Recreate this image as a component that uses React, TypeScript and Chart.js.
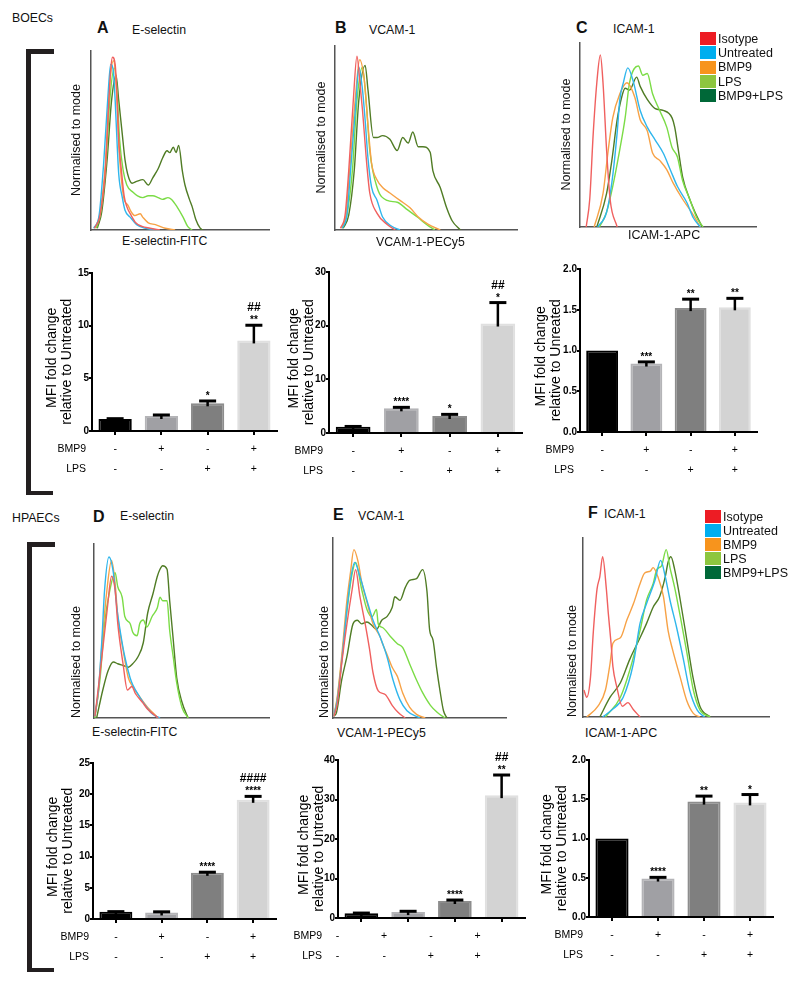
import React, { useEffect, useRef } from 'react';
import { Chart, registerables } from 'chart.js';

Chart.register(...registerables);

const FONT = "'Liberation Sans', Arial, Helvetica, sans-serif";
const NARROW = "'Liberation Sans Narrow', 'Arial Narrow', 'Liberation Sans', Arial, sans-serif";

// ---------------- series ----------------
const SERIES = ['Isotype', 'Untreated', 'BMP9', 'LPS', 'BMP9+LPS'];
const LEGEND_COLORS = ['#ed1c24', '#00aeef', '#f7941d', '#8dc63f', '#006838'];
const LINE_COLORS = ['#f0605f', '#2fb6ec', '#f7a246', '#7bdc46', '#507c25'];

// ---------------- histogram data: [channel (0-100), % of mode] ----------------
// A  BOECs E-selectin-FITC
const A_iso = [[2,1],[5,8],[8,33],[10,72],[11,89],[12,96],[13.5,92],[14.5,75],[15.5,50],[17,33],[18.5,19],[20,13],[22.5,8],[25,4],[28.5,2],[33,1],[38.5,0]];
const A_unt = [[1.5,1],[4.5,8],[7,36],[9.5,75],[11,92],[12.5,88],[13.5,72],[14.5,50],[15.5,31],[17.5,18],[19,11],[22,7],[25.5,3],[30,1],[36,0]];
const A_bmp = [[2,1],[5,9],[8,36],[10,75],[12.5,94],[13.5,89],[14.5,72],[15.5,47],[17,28],[18.5,17],[20.5,14],[22.5,10],[24.5,8],[27.5,9],[29,7],[32,4],[36,3],[41.5,1],[47,0]];
const A_lps = [[3,1],[5.5,10],[8.5,39],[10.5,72],[13,90],[14.5,78],[16,50],[18,33],[20,25],[23.5,21],[26,19],[29,18],[32,19],[34.5,19],[37.5,18],[40,17],[43,18],[45,17],[48,13],[51.5,7],[54,2],[56.5,0]];
const A_both = [[3.5,1],[6,10],[9,39],[11.5,72],[14,86],[15.5,72],[17.5,53],[19,39],[20.5,31],[23,26],[25.5,27],[29,28],[32,25],[34.5,29],[37.5,34],[40,40],[42.5,44],[44,43],[46,46],[47.5,43],[49,47],[51,33],[52.5,25],[55,17],[56.5,13],[58.5,6],[61,1],[62.5,0]];

// B  BOECs VCAM-1-PECy5
const B_iso = [[3,1],[5.5,8],[7.5,32],[10,70],[12,94],[13.5,81],[15,65],[17.5,34],[19,20],[23,9],[28.5,3],[33,0]];
const B_unt = [[4,1],[6.5,8],[8.5,32],[11.5,70],[13,88],[15,76],[16.5,59],[18,39],[20,23],[23,16],[26,7],[31,2],[35.5,0]];
const B_bmp = [[3.5,1],[6,8],[8,32],[11,70],[13.5,92],[16,81],[18,57],[20,36],[23,27],[26,23],[30,20],[35.5,16],[41,12],[45.5,7],[51,3],[57.5,0]];
const B_lps = [[4,1],[6.5,8],[9.5,32],[12,70],[15,88],[17,70],[19,43],[23,23],[28.5,16],[34,15],[39.5,11],[45,7],[50,3],[54.5,0]];
const B_both = [[4.5,1],[7.5,8],[10.5,32],[13,70],[16.5,89],[18,76],[21,50],[23,50],[26,51],[30,49],[34,43],[37,50],[40,47],[42.5,53],[45.5,45],[48,45],[52,42],[53.5,32],[57.5,23],[61,12],[64,5],[68.5,0]];

// C  BOECs ICAM-1-APC
const C_iso = [[3.5,0],[5.5,15],[7.5,51],[9.5,78],[11.5,93],[13,78],[15,42],[17,15],[21,0]];
const C_unt = [[10,0],[15,8],[18,24],[21,51],[22.5,69],[24.5,78],[27,86],[30,79],[34,63],[38,54],[42.5,47],[47,40],[51,31],[55,22],[60.5,13],[64,5],[68,0]];
const C_bmp = [[8,0],[13,18],[16,42],[18.5,59],[22.5,72],[26.5,78],[31,70],[34,58],[38,52],[41,40],[45,36],[49,31],[52.5,24],[58,15],[63,8],[68,0]];
const C_lps = [[11,0],[15,8],[18.5,22],[22.5,42],[25.5,59],[28,78],[33,87],[35.5,82],[38,83],[41,72],[45,63],[49,54],[52,43],[55,38],[58,25],[62,15],[66,5],[69.5,0]];
const C_both = [[9.5,0],[15,18],[18,36],[21,58],[23.5,70],[25.5,75],[28,74],[32,81],[34,76],[38,69],[42.5,64],[47,63],[52,59],[53.5,54],[55.5,42],[58,27],[62,15],[65,8],[69,0]];

// D  HPAECs E-selectin-FITC
const D_iso = [[0.5,1],[1.5,9],[4.5,35],[7.5,62],[10,81],[12,73],[13.5,54],[16.5,31],[19,16],[21.5,18],[23.5,14],[27.5,9],[30.5,5],[36.5,0]];
const D_unt = [[0.5,1],[2.5,16],[4.5,45],[6,73],[8.5,92],[11,83],[13,63],[15,49],[17.5,35],[20.5,23],[22,19],[26,12],[30,6],[33.5,2],[37.5,0]];
const D_bmp = [[0.5,1],[2.5,15],[4.5,42],[7,70],[10,90],[12,77],[13.5,58],[16.5,39],[19.5,23],[22,18],[26,12],[30.5,6],[36.5,0]];
const D_lps = [[0.5,0],[3.5,23],[6,54],[9,73],[12,83],[13.5,75],[16,69],[17.5,58],[20.5,54],[22,49],[24.5,47],[26,54],[28,56],[30,52],[33,58],[36,63],[37.5,69],[39,67],[41.5,67],[43,50],[45,35],[47,20],[50,6],[53.5,0]];
const D_both = [[1.5,0],[5,16],[8,27],[11,32],[13.5,31],[16.5,30],[19.5,29],[22,31],[25,35],[28,43],[30.5,60],[33.5,71],[36,81],[37.5,85],[39,87],[41.5,85],[43,67],[45,45],[47,23],[50,9],[53.5,0]];

// E  HPAECs VCAM-1-PECy5
const E_iso = [[0.5,1],[2.5,8],[5,30],[8,52],[11,71],[13,82],[15.5,67],[18.5,52],[21,38],[23,25],[26,15],[30,13],[34,7],[37.5,3],[41.5,0]];
const E_unt = [[0.5,1],[2.5,10],[5,31],[8,60],[10.5,79],[12.5,86],[15.5,78],[19.5,65],[23,54],[27,45],[31,34],[34.5,21],[38.5,10],[42.5,4],[50,0]];
const E_bmp = [[0.5,1],[2.5,12],[5,34],[8,65],[10,80],[12,93],[14.5,86],[16.5,75],[19.5,64],[23,52],[27,45],[28.5,41],[31.5,34],[34,28],[37,23],[40,14],[44,6],[48,2],[53,0]];
const E_lps = [[0.5,1],[2.5,11],[5,32],[8,59],[10.5,77],[13,86],[16.5,71],[19.5,60],[22.5,56],[25,60],[26,52],[28.5,50],[33,45],[37,41],[40,39],[44,30],[48,21],[51.5,14],[56,7],[60,3],[64.5,0]];
const E_both = [[0.5,1],[2,3],[5,21],[8,34],[11.5,52],[14,54],[16.5,52],[19.5,53],[22.5,51],[25,49],[28,54],[31,56],[34,61],[35.5,67],[38.5,65],[41.5,72],[44,76],[48,77],[51.5,82],[54,70],[55.5,49],[57.5,43],[59.5,28],[61.5,15],[63.5,4],[65.5,0]];

// F  HPAECs ICAM-1-APC
const F_iso = [[0.5,15],[2,11],[4,22],[5.5,47],[7.5,71],[9,78],[10.5,89],[12.5,71],[13.5,58],[15,41],[16,28],[18,17],[21,6],[24,8],[27,4],[30.5,0]];
const F_unt = [[10.5,0],[15.5,4],[21.5,11],[27,30],[30.5,52],[34,63],[38.5,76],[41.5,87],[44,78],[46.5,65],[50,50],[53.5,33],[57,15],[61,4],[65,0]];
const F_bmp = [[2,0],[8,6],[12,15],[14.5,30],[16,41],[20,44],[23.5,54],[27,63],[30.5,74],[33,80],[36,81],[37.5,83],[40,78],[43,67],[45.5,48],[48,37],[52,22],[55.5,9],[59,2],[62.5,0]];
const F_lps = [[12,0],[20,11],[25,26],[30.5,48],[34,65],[37.5,74],[39.5,82],[42,84],[44.5,93],[46.5,83],[49,72],[52,56],[55.5,36],[59,15],[62.5,4],[68,0]];
const F_both = [[9,0],[14.5,11],[20,19],[25,32],[30.5,44],[34,52],[37.5,61],[41,67],[44,78],[45.5,86],[47,89],[49,82],[52,65],[55.5,43],[59,21],[62.5,6],[68,0]];

// ---------------- bar data ----------------
const CONDITIONS = ['Untreated', 'BMP9', 'LPS', 'BMP9+LPS'];
const BMP9_ROW = ['-', '+', '-', '+'];
const LPS_ROW = ['-', '-', '+', '+'];

const A_MFI = [1.13, 1.42, 2.63, 8.6];
const A_SEM = [0.04, 0.1, 0.22, 1.44];
const A_STARS = ['', '', '*', '**'];
const A_HASH = ['', '', '', '##'];

const B_MFI = [1.17, 4.6, 3.17, 20.4];
const B_SEM = [0.05, 0.18, 0.3, 3.9];
const B_STARS = ['', '****', '*', '*'];
const B_HASH = ['', '', '', '##'];

const C_MFI = [1.0, 0.84, 1.52, 1.53];
const C_SEM = [0, 0.02, 0.11, 0.11];
const C_STARS = ['', '***', '**', '**'];
const C_HASH = ['', '', '', ''];

const D_MFI = [1.15, 1.05, 7.4, 19.1];
const D_SEM = [0.03, 0.1, 0.1, 0.55];
const D_STARS = ['', '', '****', '****'];
const D_HASH = ['', '', '', '####'];

const E_MFI = [1.2, 1.5, 4.3, 31.1];
const E_SEM = [0.05, 0.2, 0.25, 5.1];
const E_STARS = ['', '', '****', '**'];
const E_HASH = ['', '', '', '##'];

const F_MFI = [1.0, 0.49, 1.47, 1.46];
const F_SEM = [0, 0.015, 0.07, 0.1];
const F_STARS = ['', '****', '**', '*'];
const F_HASH = ['', '', '', ''];

// ---------------- styles ----------------
const BAR_FILL = ['#000000', '#a0a0a4', '#7f7f7f', '#d3d3d3'];
const BAR_EDGE = ['#000000', '#b4b4b7', '#8d8d8d', '#e0e0e0'];

// ---------------- layout (page pixels) ----------------
const HIST_LAYOUT = {
  A: { x0: 91, x1: 270, top: 50, base: 230, titleGap: 14, titleAlign: 'center' },
  B: { x0: 335, x1: 518, top: 45, base: 230, titleGap: 13, titleAlign: 'center' },
  C: { x0: 580, x1: 757, top: 42, base: 227, titleGap: 13, titleAlign: 'center' },
  D: { x0: 94, x1: 270, top: 543, base: 718, titleGap: 17, titleAlign: 'start' },
  E: { x0: 333, x1: 507, top: 537, base: 718, titleGap: 8, titleAlign: 'start' },
  F: { x0: 583, x1: 770, top: 537, base: 717, titleGap: 10, titleAlign: 'start' },
};

const BAR_LAYOUT = {
  A: { axisX: 92, right: 277, top: 273, bottom: 431, title1X: 52, signShift: 0, headShift: 0 },
  B: { axisX: 329, right: 522, top: 272, bottom: 433, title1X: 294, signShift: 0, headShift: 0 },
  C: { axisX: 580, right: 757, top: 269, bottom: 432, title1X: 541, signShift: 0, headShift: 0 },
  D: { axisX: 93, right: 276, top: 763, bottom: 919, title1X: 53, signShift: 0, headShift: 2 },
  E: { axisX: 338, right: 525, top: 760, bottom: 918, title1X: 304, signShift: -24, headShift: -10 },
  F: { axisX: 589, right: 773, top: 760, bottom: 917, title1X: 547, signShift: 0, headShift: 0 },
};

function Histogram({ lay, curves }: any) {
  const ref = useRef<HTMLCanvasElement>(null);
  const W = Math.round(lay.titleGap + 7.5);
  const left = lay.x0 - W;
  const width = lay.x1 - left;
  const XH = 3;
  const height = lay.base - lay.top + XH;
  useEffect(() => {
    const chart = new Chart(ref.current as HTMLCanvasElement, {
      type: 'line',
      data: {
        datasets: curves.map((pts: number[][], i: number) => ({
          label: SERIES[i],
          data: pts.map(([x, y]) => ({ x, y })),
          borderColor: LINE_COLORS[i],
          backgroundColor: LEGEND_COLORS[i],
          borderWidth: 1.4,
          pointRadius: 0,
          fill: false,
          cubicInterpolationMode: 'monotone',
        })),
      },
      options: {
        animation: false,
        responsive: false,
        events: [],
        layout: { padding: 0 },
        plugins: { legend: { display: false }, tooltip: { enabled: false } },
        scales: {
          x: {
            type: 'linear', min: 0, max: 100,
            ticks: { display: false },
            grid: { display: false },
            border: { color: '#555', width: 1.5 },
            afterFit: (s: any) => { s.height = XH; },
          },
          y: {
            min: 0, max: 100,
            ticks: { display: false },
            grid: { display: false },
            border: { color: '#555', width: 1.5 },
            title: {
              display: true, text: 'Normalised to mode', align: lay.titleAlign, padding: 0,
              color: '#111', font: { family: FONT, size: 12.5, lineHeight: 1.2 },
            },
            afterFit: (s: any) => { s.width = W; },
          },
        },
      } as any,
    });
    return () => chart.destroy();
  }, []);
  return (
    <canvas ref={ref} width={width} height={height}
      style={{ position: 'absolute', left, top: lay.top, width, height }} />
  );
}

function BarPanel({ lay, values, errs, stars, hashes, yMax, yStep, decimals, yTitle }: any) {
  const ref = useRef<HTMLCanvasElement>(null);
  const PL = 24;
  const L = Math.round(lay.title1X - 7.7);
  const W = lay.axisX - L;
  const PT = 12, XH = 50, PR = 4;
  const width = lay.right - L + PR + PL;
  const height = PT + (lay.bottom - lay.top) + XH;
  useEffect(() => {
    const extras = {
      id: 'barExtras',
      afterDraw(chart: any) {
        const { ctx, chartArea } = chart;
        const ys = chart.scales.y;
        const meta = chart.getDatasetMeta(0);
        ctx.save();
        ctx.strokeStyle = '#000';
        ctx.fillStyle = '#000';
        values.forEach((v: number, i: number) => {
          const bx = meta.data[i].x;
          const e = errs[i];
          const yv = ys.getPixelForValue(v);
          const yt = ys.getPixelForValue(v + e);
          if (e > 0) {
            ctx.lineWidth = 2.5;
            ctx.beginPath(); ctx.moveTo(bx, yv + 3); ctx.lineTo(bx, yt); ctx.stroke();
            ctx.lineWidth = 3;
            ctx.beginPath(); ctx.moveTo(bx - 8.5, yt); ctx.lineTo(bx + 8.5, yt); ctx.stroke();
          }
          ctx.textAlign = 'center';
          ctx.textBaseline = 'alphabetic';
          if (stars[i]) { ctx.font = `bold 10px ${FONT}`; ctx.fillText(stars[i], bx, yt - 2); }
          if (hashes[i]) { ctx.font = `bold 12px ${NARROW}`; ctx.fillText(hashes[i], bx, yt - 14); }
        });
        ctx.font = `10.5px ${NARROW}`;
        ctx.textAlign = 'right';
        ctx.textBaseline = 'middle';
        const hx = chartArea.left - 6 + lay.headShift;
        ctx.fillText('BMP9', hx, chartArea.bottom + 18);
        ctx.fillText('LPS', hx, chartArea.bottom + 38);
        ctx.restore();
      },
    };
    const chart = new Chart(ref.current as HTMLCanvasElement, {
      type: 'bar',
      data: {
        labels: CONDITIONS.map((c, i) => [BMP9_ROW[i], LPS_ROW[i]]),
        datasets: [{
          label: 'MFI fold change',
          data: values,
          backgroundColor: BAR_FILL,
          borderColor: BAR_EDGE,
          borderWidth: 2,
          barPercentage: 0.72,
          categoryPercentage: 1,
        }],
      },
      options: {
        animation: false,
        responsive: false,
        events: [],
        layout: { padding: { top: PT, right: PR, left: PL, bottom: 0 } },
        plugins: { legend: { display: false }, tooltip: { enabled: false } },
        scales: {
          x: {
            grid: { display: true, drawOnChartArea: false, drawTicks: true, tickLength: 4, offset: false, color: '#000', lineWidth: 2 },
            border: { color: '#000', width: 2 },
            ticks: {
              color: '#000', padding: 4, maxRotation: 0, autoSkip: false, labelOffset: lay.signShift,
              font: { family: NARROW, size: 10.5, lineHeight: 20 / 10.5 },
            },
            afterFit: (s: any) => { s.height = XH; },
          },
          y: {
            min: 0, max: yMax,
            ticks: {
              stepSize: yStep, color: '#000', padding: 0,
              font: { family: NARROW, size: 10, weight: 'bold' },
              callback: (v: number) => (decimals ? Number(v).toFixed(decimals) : String(v)),
            },
            grid: { drawOnChartArea: false, drawTicks: true, tickLength: 3, color: '#000', lineWidth: 2 },
            border: { color: '#000', width: 2 },
            title: {
              // trailing spaces nudge the centred, rotated lines slightly lower, as in the figure
              display: true, text: [yTitle[0] + '   ', yTitle[1] + '     '], padding: 0, color: '#000',
              font: { family: FONT, size: 14, lineHeight: 1.1 },
            },
            afterFit: (s: any) => { s.width = W; },
          },
        },
      } as any,
      plugins: [extras],
    });
    return () => chart.destroy();
  }, []);
  return (
    <canvas ref={ref} width={width} height={height}
      style={{ position: 'absolute', left: L - PL, top: lay.top - PT, width, height }} />
  );
}

function Label({ text, left, cy, size, bold }: any) {
  return (
    <div style={{
      position: 'absolute', left, top: cy - 0.49 * size, fontSize: size, lineHeight: 1,
      fontWeight: bold ? 'bold' : 'normal', whiteSpace: 'nowrap', color: '#111',
    }}>{text}</div>
  );
}

function Legend({ left, top, pitch }: any) {
  return (
    <>
      {SERIES.map((s, i) => (
        <React.Fragment key={s}>
          <div style={{ position: 'absolute', left, top: top + i * pitch, width: 16, height: 13, background: LEGEND_COLORS[i] }} />
          <Label text={s} left={left + 18} cy={top + i * pitch + 7} size={12.5} />
        </React.Fragment>
      ))}
    </>
  );
}

function Bracket({ left, top, bottom }: any) {
  const c = '#231f20';
  return (
    <>
      <div style={{ position: 'absolute', left, top, width: 5, height: bottom - top, background: c }} />
      <div style={{ position: 'absolute', left, top, width: 28, height: 4.5, background: c }} />
      <div style={{ position: 'absolute', left, top: bottom - 4.5, width: 27, height: 4.5, background: c }} />
    </>
  );
}

const TITLE_MAIN = ['MFI fold change', 'relative to Untreated'];
const TITLE_TYPO = ['MFI fold change', 'relative to Unreated'];

export default function App() {
  return (
    <div style={{
      position: 'absolute', left: 0, top: 0, width: 800, height: 985, overflow: 'hidden',
      background: '#fff', fontFamily: FONT,
    }}>
      {/* section labels and brackets */}
      <Label text="BOECs" left={12} cy={18} size={12.3} />
      <Bracket left={26} top={49} bottom={495} />
      <Label text="HPAECs" left={12} cy={518} size={12.3} />
      <Bracket left={27} top={542} bottom={972} />

      {/* panel letters and titles */}
      <Label text="A" left={97} cy={27.5} size={16} bold />
      <Label text="E-selectin" left={132} cy={30} size={12.3} />
      <Label text="B" left={335} cy={27.5} size={16} bold />
      <Label text="VCAM-1" left={369} cy={30} size={12.3} />
      <Label text="C" left={576} cy={27.5} size={16} bold />
      <Label text="ICAM-1" left={613} cy={29} size={12.3} />
      <Label text="D" left={93} cy={517} size={16} bold />
      <Label text="E-selectin" left={120} cy={516} size={12.3} />
      <Label text="E" left={333} cy={515} size={16} bold />
      <Label text="VCAM-1" left={358} cy={516} size={12.3} />
      <Label text="F" left={588} cy={512.5} size={16} bold />
      <Label text="ICAM-1" left={604} cy={514} size={12.3} />

      {/* histograms */}
      <Histogram lay={HIST_LAYOUT.A} curves={[A_iso, A_unt, A_bmp, A_lps, A_both]} />
      <Histogram lay={HIST_LAYOUT.B} curves={[B_iso, B_unt, B_bmp, B_lps, B_both]} />
      <Histogram lay={HIST_LAYOUT.C} curves={[C_iso, C_unt, C_bmp, C_lps, C_both]} />
      <Histogram lay={HIST_LAYOUT.D} curves={[D_iso, D_unt, D_bmp, D_lps, D_both]} />
      <Histogram lay={HIST_LAYOUT.E} curves={[E_iso, E_unt, E_bmp, E_lps, E_both]} />
      <Histogram lay={HIST_LAYOUT.F} curves={[F_iso, F_unt, F_bmp, F_lps, F_both]} />

      {/* histogram axis labels */}
      <Label text="E-selectin-FITC" left={122} cy={241} size={12.3} />
      <Label text="VCAM-1-PECy5" left={376} cy={242} size={12.3} />
      <Label text="ICAM-1-APC" left={628} cy={235} size={12.5} />
      <Label text="E-selectin-FITC" left={92} cy={732} size={12.3} />
      <Label text="VCAM-1-PECy5" left={337} cy={733} size={12.3} />
      <Label text="ICAM-1-APC" left={585} cy={733} size={12.5} />

      {/* legends */}
      <Legend left={700} top={32} pitch={14.3} />
      <Legend left={705} top={510} pitch={14.1} />

      {/* bar charts */}
      <BarPanel lay={BAR_LAYOUT.A} values={A_MFI} errs={A_SEM} stars={A_STARS} hashes={A_HASH} yMax={15} yStep={5} decimals={0} yTitle={TITLE_MAIN} />
      <BarPanel lay={BAR_LAYOUT.B} values={B_MFI} errs={B_SEM} stars={B_STARS} hashes={B_HASH} yMax={30} yStep={10} decimals={0} yTitle={TITLE_MAIN} />
      <BarPanel lay={BAR_LAYOUT.C} values={C_MFI} errs={C_SEM} stars={C_STARS} hashes={C_HASH} yMax={2} yStep={0.5} decimals={1} yTitle={TITLE_TYPO} />
      <BarPanel lay={BAR_LAYOUT.D} values={D_MFI} errs={D_SEM} stars={D_STARS} hashes={D_HASH} yMax={25} yStep={5} decimals={0} yTitle={TITLE_MAIN} />
      <BarPanel lay={BAR_LAYOUT.E} values={E_MFI} errs={E_SEM} stars={E_STARS} hashes={E_HASH} yMax={40} yStep={10} decimals={0} yTitle={TITLE_MAIN} />
      <BarPanel lay={BAR_LAYOUT.F} values={F_MFI} errs={F_SEM} stars={F_STARS} hashes={F_HASH} yMax={2} yStep={0.5} decimals={1} yTitle={TITLE_MAIN} />
    </div>
  );
}
